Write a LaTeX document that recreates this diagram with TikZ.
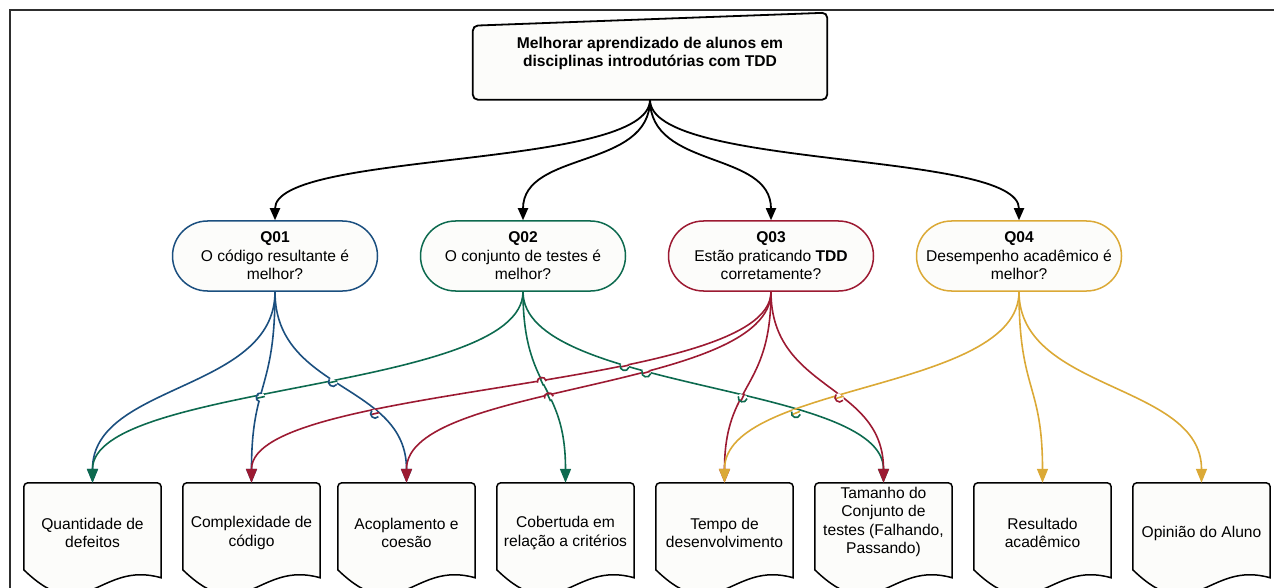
\documentclass[tikz,border=0pt]{standalone}
\usepackage{fontspec}
\setmainfont{Liberation Sans}
\usetikzlibrary{arrows.meta,calc,intersections,backgrounds}

\definecolor{qblue}{HTML}{1B4F7F}
\definecolor{qgreen}{HTML}{0D6A4F}
\definecolor{qred}{HTML}{9C1A32}
\definecolor{qgold}{HTML}{DBA936}
\definecolor{paper}{HTML}{FCFCFA}
\definecolor{framegray}{HTML}{2E2E2E}

\tikzset{
  every node/.style={font=\fontsize{15.6}{18.5}\selectfont, align=center, inner sep=0pt},
  question/.style={line width=1.5pt, fill=paper, rounded corners=35pt,
    minimum width=205pt, minimum height=70pt},
  doc/.style={minimum width=137pt},
  docline/.style={draw=black, line width=1.5pt, fill=paper},
  conn/.style={line width=1.6pt},
  link/.style={conn, -{Triangle[length=14pt,width=11pt]}},
  toplink/.style={line width=1.8pt, -{Triangle[length=12pt,width=10pt]}},
}

% document symbol: rounded top, wavy bottom edge
\newcommand\docoutline[1]{%
  \draw[docline] ($(#1.north west)+(0,87)$) [rounded corners=4pt] -- (#1.north west)
    -- (#1.north east) [sharp corners] -- ($(#1.north east)+(0,95)$)
    .. controls ($(#1.north west)+(75.35,77)$) and ($(#1.north west)+(61.65,147)$)
    .. ($(#1.north west)+(0,87)$) -- cycle;}

% connector paths (question -> metric)
\newcommand\connba{(q1.south) .. controls +(0,100) and +(0,-100) .. (d1.north)}
\newcommand\connbb{(q1.south) .. controls +(0,100) and +(0,-100) .. (d2.north)}
\newcommand\connbc{(q1.south) .. controls +(0,100) and +(0,-100) .. (d3.north)}
\newcommand\connga{(q2.south) .. controls +(0,100) and +(0,-100) .. (d1.north)}
\newcommand\conngd{(q2.south) .. controls +(0,100) and +(0,-100) .. (d4.north)}
\newcommand\conngf{(q2.south) .. controls +(0,100) and +(0,-100) .. (d6.north)}
\newcommand\connrb{(q3.south) .. controls +(0,100) and +(0,-100) .. (d2.north)}
\newcommand\connrc{(q3.south) .. controls +(0,100) and +(0,-100) .. (d3.north)}
\newcommand\connre{(q3.south) .. controls +(0,100) and +(0,-100) .. (d5.north)}
\newcommand\connrf{(q3.south) .. controls +(0,100) and +(0,-100) .. (d6.north)}
\newcommand\connye{(q4.south) .. controls +(0,100) and +(0,-100) .. (d5.north)}
\newcommand\connyg{(q4.south) .. controls +(0,100) and +(0,-100) .. (d7.north)}
\newcommand\connyh{(q4.south) .. controls +(0,100) and +(0,-100) .. (d8.north)}

% line jump: #1 hops over #3 where they cross
\newcommand\linejump[4]{%
  \expandafter\let\expandafter\jpJ\csname conn#1\endcsname
  \expandafter\let\expandafter\jpU\csname conn#3\endcsname
  \path[name intersections={of=#1 and #3, by=jp}];
  \begin{scope}
    \clip (jp) circle[radius=4.5];
    \draw[white, line width=5pt] \jpJ;
    \draw[conn, #4] \jpU;
  \end{scope}
  \path[name path=jc] (jp) circle[radius=4.5];
  \path[name intersections={of=#1 and jc, by={ja,jb}}];
  \draw[conn, #2] (ja) to[bend left=90, looseness=1.7] (jb);
}

\begin{document}
\begin{tikzpicture}[x=1pt,y=-1pt]
\useasboundingbox (0,0) rectangle (1274,588);

% page frame
\draw[framegray, line width=2pt] (9.5,588) -- (9.5,10.5) -- (1274,10.5);

% goal
\node[font=\bfseries\fontsize{15.6}{18.5}\selectfont, minimum width=354pt, minimum height=92pt]
  (goal) at (650,53.5) {Melhorar aprendizado de alunos em\\disciplinas introdutórias com TDD};
\begin{scope}[on background layer]
  \draw[line width=1.8pt, fill=paper, rounded corners=5pt] (goal.south west)
    -- ($(goal.south west)+(0,-74)$) -- ($(goal.south east)+(0,-87)$)
    -- (goal.south east) -- cycle;
\end{scope}

% questions
\node[question, draw=qblue]  (q1) at (275,256)  {\textbf{Q01}\\O código resultante é\\melhor?};
\node[question, draw=qgreen] (q2) at (523,256)  {\textbf{Q02}\\O conjunto de testes é\\melhor?};
\node[question, draw=qred]   (q3) at (771,256)  {\textbf{Q03}\\Estão praticando \textbf{TDD}\\corretamente?};
\node[question, draw=qgold]  (q4) at (1019,256) {\textbf{Q04}\\Desempenho acadêmico é\\melhor?};

% metrics
\node[doc, minimum height=100pt] (d1) at (92.5,533)  {Quantidade de\\defeitos};
\node[doc, minimum height=100pt] (d2) at (251.5,533) {Complexidade de\\código};
\node[doc, minimum height=100pt] (d3) at (406.5,533) {Acoplamento e\\coesão};
\node[doc, minimum height=100pt] (d4) at (565.5,533) {Cobertuda em\\relação a critérios};
\node[doc, minimum height=100pt] (d5) at (724.5,533) {Tempo de\\desenvolvimento};
\node[doc, minimum height=78pt]  (d6) at (883.5,522)   {Tamanho do\\Conjunto de\\testes (Falhando,\\Passando)};
\node[doc, minimum height=100pt] (d7) at (1042.5,533) {Resultado\\acadêmico};
\node[doc, minimum height=100pt] (d8) at (1201.5,533) {Opinião do Aluno};
\begin{scope}[on background layer]
  \docoutline{d1}\docoutline{d2}\docoutline{d3}\docoutline{d4}
  \docoutline{d5}\docoutline{d6}\docoutline{d7}\docoutline{d8}
\end{scope}

% goal -> questions
\draw[toplink] (goal.south) .. controls +(0,70) and +(0,-70) .. (q1.north);
\draw[toplink] (goal.south) .. controls +(0,70) and +(0,-70) .. (q2.north);
\draw[toplink] (goal.south) .. controls +(0,70) and +(0,-70) .. (q3.north);
\draw[toplink] (goal.south) .. controls +(0,70) and +(0,-70) .. (q4.north);

% questions -> metrics
\draw[link, qblue,  name path=ba] \connba;
\draw[link, qblue,  name path=bb] \connbb;
\draw[link, qblue,  name path=bc] \connbc;
\draw[link, qgreen, name path=ga] \connga;
\draw[link, qgreen, name path=gd] \conngd;
\draw[link, qgreen, name path=gf] \conngf;
\draw[link, qred,   name path=rb] \connrb;
\draw[link, qred,   name path=rc] \connrc;
\draw[link, qred,   name path=re] \connre;
\draw[link, qred,   name path=rf] \connrf;
\draw[link, qgold,  name path=ye] \connye;
\draw[link, qgold,  name path=yg] \connyg;
\draw[link, qgold,  name path=yh] \connyh;

% hops where connectors cross
\linejump{bb}{qblue}{ga}{qgreen}
\linejump{bc}{qblue}{ga}{qgreen}
\linejump{bc}{qblue}{rb}{qred}
\linejump{rb}{qred}{gd}{qgreen}
\linejump{rc}{qred}{gd}{qgreen}
\linejump{gf}{qgreen}{rb}{qred}
\linejump{gf}{qgreen}{rc}{qred}
\linejump{gf}{qgreen}{re}{qred}
\linejump{gf}{qgreen}{ye}{qgold}
\linejump{rf}{qred}{ye}{qgold}
\end{tikzpicture}
\end{document}
